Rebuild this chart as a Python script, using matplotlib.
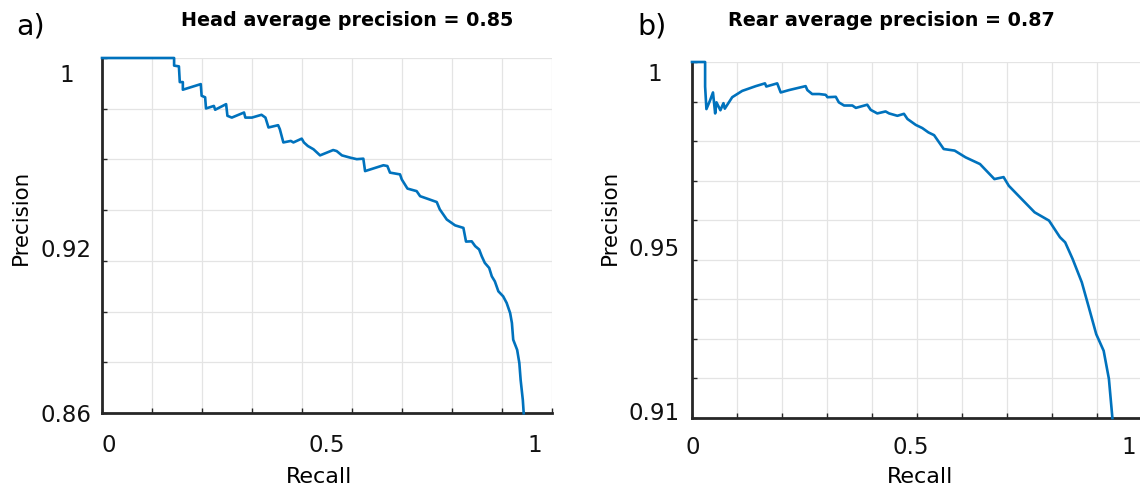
import numpy as np
import matplotlib
matplotlib.use("Agg")
import matplotlib.pyplot as plt

plt.rcParams['font.family'] = ['DejaVu Sans']

# ---------------- data ----------------
head_recall = [0.000, 0.165, 0.165, 0.176, 0.178, 0.185, 0.185, 0.226, 0.228, 0.236,
               0.238, 0.256, 0.259, 0.284, 0.287, 0.297, 0.325, 0.328, 0.343, 0.365,
               0.374, 0.381, 0.403, 0.407, 0.415, 0.432, 0.438, 0.457, 0.462, 0.471,
               0.484, 0.499, 0.529, 0.537, 0.549, 0.568, 0.583, 0.598, 0.602, 0.644,
               0.653, 0.659, 0.682, 0.686, 0.699, 0.720, 0.728, 0.743, 0.766, 0.773,
               0.789, 0.808, 0.827, 0.833, 0.846, 0.854, 0.863, 0.869, 0.876, 0.886,
               0.892, 0.899, 0.907, 0.918, 0.926, 0.934, 0.938, 0.941, 0.950, 0.955,
               0.958, 0.963, 0.965]
head_precision = [1.000, 1.000, 0.997, 0.9967, 0.9905, 0.9905, 0.9875, 0.9897, 0.9851, 0.9845,
                  0.9801, 0.9811, 0.9796, 0.9818, 0.9772, 0.9765, 0.9785, 0.9765, 0.9765, 0.9776,
                  0.9765, 0.9726, 0.9735, 0.9719, 0.9667, 0.9673, 0.9667, 0.9682, 0.9667, 0.9653,
                  0.9640, 0.9616, 0.9637, 0.9633, 0.9616, 0.9607, 0.9601, 0.9603, 0.9554, 0.9577,
                  0.9574, 0.9548, 0.9541, 0.9521, 0.9485, 0.9475, 0.9455, 0.9446, 0.9432, 0.9403,
                  0.9363, 0.9340, 0.9330, 0.9276, 0.9277, 0.9258, 0.9245, 0.9218, 0.9192, 0.9172,
                  0.9139, 0.9119, 0.9080, 0.9060, 0.9034, 0.8994, 0.8955, 0.8889, 0.8849, 0.8797,
                  0.8730, 0.8651, 0.8599]

rear_recall = [0.000, 0.030, 0.030, 0.033, 0.041, 0.048, 0.053, 0.056, 0.065, 0.072,
               0.075, 0.092, 0.115, 0.146, 0.167, 0.170, 0.195, 0.203, 0.222, 0.260,
               0.264, 0.275, 0.291, 0.306, 0.310, 0.329, 0.336, 0.348, 0.367, 0.375,
               0.401, 0.409, 0.424, 0.443, 0.451, 0.470, 0.485, 0.493, 0.512, 0.527,
               0.541, 0.554, 0.576, 0.601, 0.626, 0.659, 0.692, 0.713, 0.725, 0.754,
               0.784, 0.817, 0.842, 0.854, 0.871, 0.892, 0.908, 0.925, 0.942, 0.954,
               0.962]
rear_precision = [1.000, 1.000, 0.9938, 0.9881, 0.9902, 0.9923, 0.9870, 0.9898, 0.9878, 0.9896,
                  0.9882, 0.9911, 0.9927, 0.9939, 0.9946, 0.9938, 0.9946, 0.9923, 0.9929, 0.9939,
                  0.9929, 0.9919, 0.9919, 0.9917, 0.9911, 0.9912, 0.9898, 0.9890, 0.9890, 0.9884,
                  0.9892, 0.9879, 0.9870, 0.9875, 0.9870, 0.9864, 0.9869, 0.9856, 0.9841, 0.9833,
                  0.9822, 0.9815, 0.9780, 0.9776, 0.9759, 0.9742, 0.9704, 0.9709, 0.9687, 0.9654,
                  0.9620, 0.9599, 0.9557, 0.9544, 0.9502, 0.9443, 0.9380, 0.9312, 0.9270, 0.9199,
                  0.9100]

head_title = "Head average precision = 0.85"
rear_title = "Rear average precision = 0.87"

# tick labels and where they sit (as drawn in the reference)
head_xticklabels = ["0", "0.5", "1"]
head_xtick_values = [0.016, 0.515, 0.990]
head_yticklabels = ["1", "0.92", "0.86"]
head_ytick_values = [0.9945, 0.9256, 0.8605]

rear_xticklabels = ["0", "0.5", "1"]
rear_xtick_values = [0.002, 0.501, 1.000]
rear_yticklabels = ["1", "0.95", "0.91"]
rear_ytick_values = [0.9977, 0.9535, 0.912]

# ---------------- style ----------------
W, H = 1140, 489
LINE_COLOR = "#0072BD"
AX_COLOR = "#262626"
GRID_COLOR = "#e4e4e4"
TICK_FS = 16.5

fig = plt.figure(figsize=(W / 100, H / 100), dpi=100)


def px_axes(left, top, right, bottom):
    return fig.add_axes([left / W, (H - bottom) / H, (right - left) / W, (bottom - top) / H])


def style_axes(ax, xmax, n_xgrid, ylo, yhi, n_ygrid, xt, xtl, yt, ytl, xpad, ypad):
    ax.set_xlim(0, xmax)
    ax.set_ylim(ylo, yhi)
    ax.set_xticks(np.linspace(0, xmax, n_xgrid + 1), minor=True)
    ax.set_yticks(np.linspace(ylo, yhi, n_ygrid + 1), minor=True)
    ax.set_xticks(xt, xtl)
    ax.set_yticks(yt, ytl)
    ax.grid(False, which='major')
    ax.grid(True, which='minor', color=GRID_COLOR, lw=0.9)
    ax.set_axisbelow(True)
    for s in ("top", "right"):
        ax.spines[s].set_visible(False)
    for s in ("left", "bottom"):
        ax.spines[s].set_color(AX_COLOR)
        ax.spines[s].set_linewidth(2.0)
    ax.tick_params(which='minor', direction='in', length=3.5, width=1.0, color=AX_COLOR)
    ax.tick_params(which='major', length=0, labelsize=TICK_FS, labelcolor="#111111")
    ax.tick_params(axis='x', which='major', pad=xpad)
    ax.tick_params(axis='y', which='major', pad=ypad)
    plt.setp(ax.get_yticklabels(), ha='center')


# left panel
ax1 = px_axes(102, 59, 552, 414)
style_axes(ax1, 450 / 437, 9, 0.86, 1.0, 7,
           head_xtick_values, head_xticklabels, head_ytick_values, head_yticklabels,
           xpad=14.4, ypad=25.6)
ax1.plot(head_recall, head_precision, color=LINE_COLOR, lw=1.9, clip_on=False, zorder=3)

# right panel
ax2 = px_axes(692, 63, 1142, 419)
style_axes(ax2, 450 / 437, 10, 0.91, 1.0, 9,
           rear_xtick_values, rear_xticklabels, rear_ytick_values, rear_yticklabels,
           xpad=12.2, ypad=27.0)
ax2.plot(rear_recall, rear_precision, color=LINE_COLOR, lw=1.9, clip_on=False, zorder=3)


def ftext(x, y, s, **kw):
    fig.text(x / W, (H - y) / H, s, **kw)


# titles
ftext(347, 26, head_title, ha='center', va='baseline', fontsize=13.8, fontweight='bold')
ftext(891, 26, rear_title, ha='center', va='baseline', fontsize=13.8, fontweight='bold')
# panel letters
ftext(16, 35, "a)", ha='left', va='baseline', fontsize=20.5)
ftext(637, 35, "b)", ha='left', va='baseline', fontsize=20.5)
# axis labels
ftext(319, 483, "Recall", ha='center', va='baseline', fontsize=16)
ftext(920, 483, "Recall", ha='center', va='baseline', fontsize=16)
ftext(21, 217.5, "Precision", ha='center', va='center', rotation=90, fontsize=15.4)
ftext(610, 217.5, "Precision", ha='center', va='center', rotation=90, fontsize=15.4)

fig.savefig("out.png", dpi=100)
